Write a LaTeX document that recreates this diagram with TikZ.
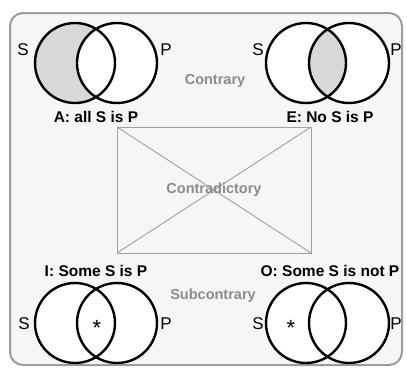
\documentclass[tikz,border=0pt]{standalone}
\usepackage{fontspec}
\setmainfont{Liberation Sans}
\definecolor{bg}{HTML}{F6F6F6}
\definecolor{framegray}{HTML}{9C9C9C}
\definecolor{shadegray}{HTML}{D8D8D8}
\definecolor{titlegray}{HTML}{8C8C8C}
\definecolor{rline}{HTML}{A0A0A0}
\tikzset{
  venn/.style={draw=black, line width=2.4pt},
  lbl/.style={font=\fontsize{15.5}{17}\selectfont\bfseries, text=black, inner sep=0pt},
  sp/.style={font=\fontsize{17}{19}\selectfont, text=black, inner sep=0pt},
  ttl/.style={font=\fontsize{14.5}{16}\selectfont\bfseries, text=titlegray, inner sep=0pt},
  box/.style={draw=rline, line width=0.9pt},
  star/.style={font=\fontsize{22}{24}\selectfont, inner sep=0pt}
}
\begin{document}
\begin{tikzpicture}[x=1pt,y=-1pt]
\useasboundingbox (0,0) rectangle (407,368);
\fill[white] (0,0) rectangle (407,368);
\draw[draw=framegray, fill=bg, line width=2pt, rounded corners=13pt] (10,13) rectangle (402,365);
% A
\fill[white] (75,63) circle[radius=40];
\fill[shadegray] (75,63) circle[radius=40];
\fill[white] (117,63) circle[radius=40];
\draw[venn] (75,63) circle[radius=40];
\draw[venn] (117,63) circle[radius=40];
\node[sp] (aS) at (23,50) {S};
\node[sp] (aP) at (166,50) {P};
\node[lbl] (aL) at (96,117) {A: all S is P};
% E
\fill[white] (306,63) circle[radius=40];
\fill[white] (349,63) circle[radius=40];
\begin{scope}
\clip (306,63) circle[radius=40];
\fill[shadegray] (349,63) circle[radius=40];
\end{scope}
\draw[venn] (306,63) circle[radius=40];
\draw[venn] (349,63) circle[radius=40];
\node[sp] (eS) at (258,50) {S};
\node[sp] (eP) at (396,50) {P};
\node[lbl] (eL) at (330,117) {E: No S is P};
% I
\fill[white] (75,323) circle[radius=40];
\fill[white] (117,323) circle[radius=40];
\draw[venn] (75,323) circle[radius=40];
\draw[venn] (117,323) circle[radius=40];
\node[sp] (iS) at (24,324) {S};
\node[sp] (iP) at (166,324) {P};
\node[star] (iX) at (97,328) {*};
\node[lbl] (iL) at (96,271) {I: Some S is P};
% O
\fill[white] (306,323) circle[radius=40];
\fill[white] (349,323) circle[radius=40];
\draw[venn] (306,323) circle[radius=40];
\draw[venn] (349,323) circle[radius=40];
\node[sp] (oS) at (258,324) {S};
\node[sp] (oP) at (396,324) {P};
\node[star] (oX) at (291,328) {*};
\node[lbl] (oL) at (330,271) {O: Some S is not P};
% square of opposition
\coordinate (tl) at (117,127);
\coordinate (tr) at (311,127);
\coordinate (br) at (311,253);
\coordinate (bl) at (117,253);
\draw[box] (tl) -- (tr) -- (br) -- (bl) -- cycle;
\draw[box] (tl) -- (br);
\draw[box] (tr) -- (bl);
\node[ttl] (ct) at (215,81) {Contrary};
\node[ttl] (cd) at (214,190) {Contradictory};
\node[ttl] (sc) at (213,296) {Subcontrary};
\end{tikzpicture}
\end{document}
